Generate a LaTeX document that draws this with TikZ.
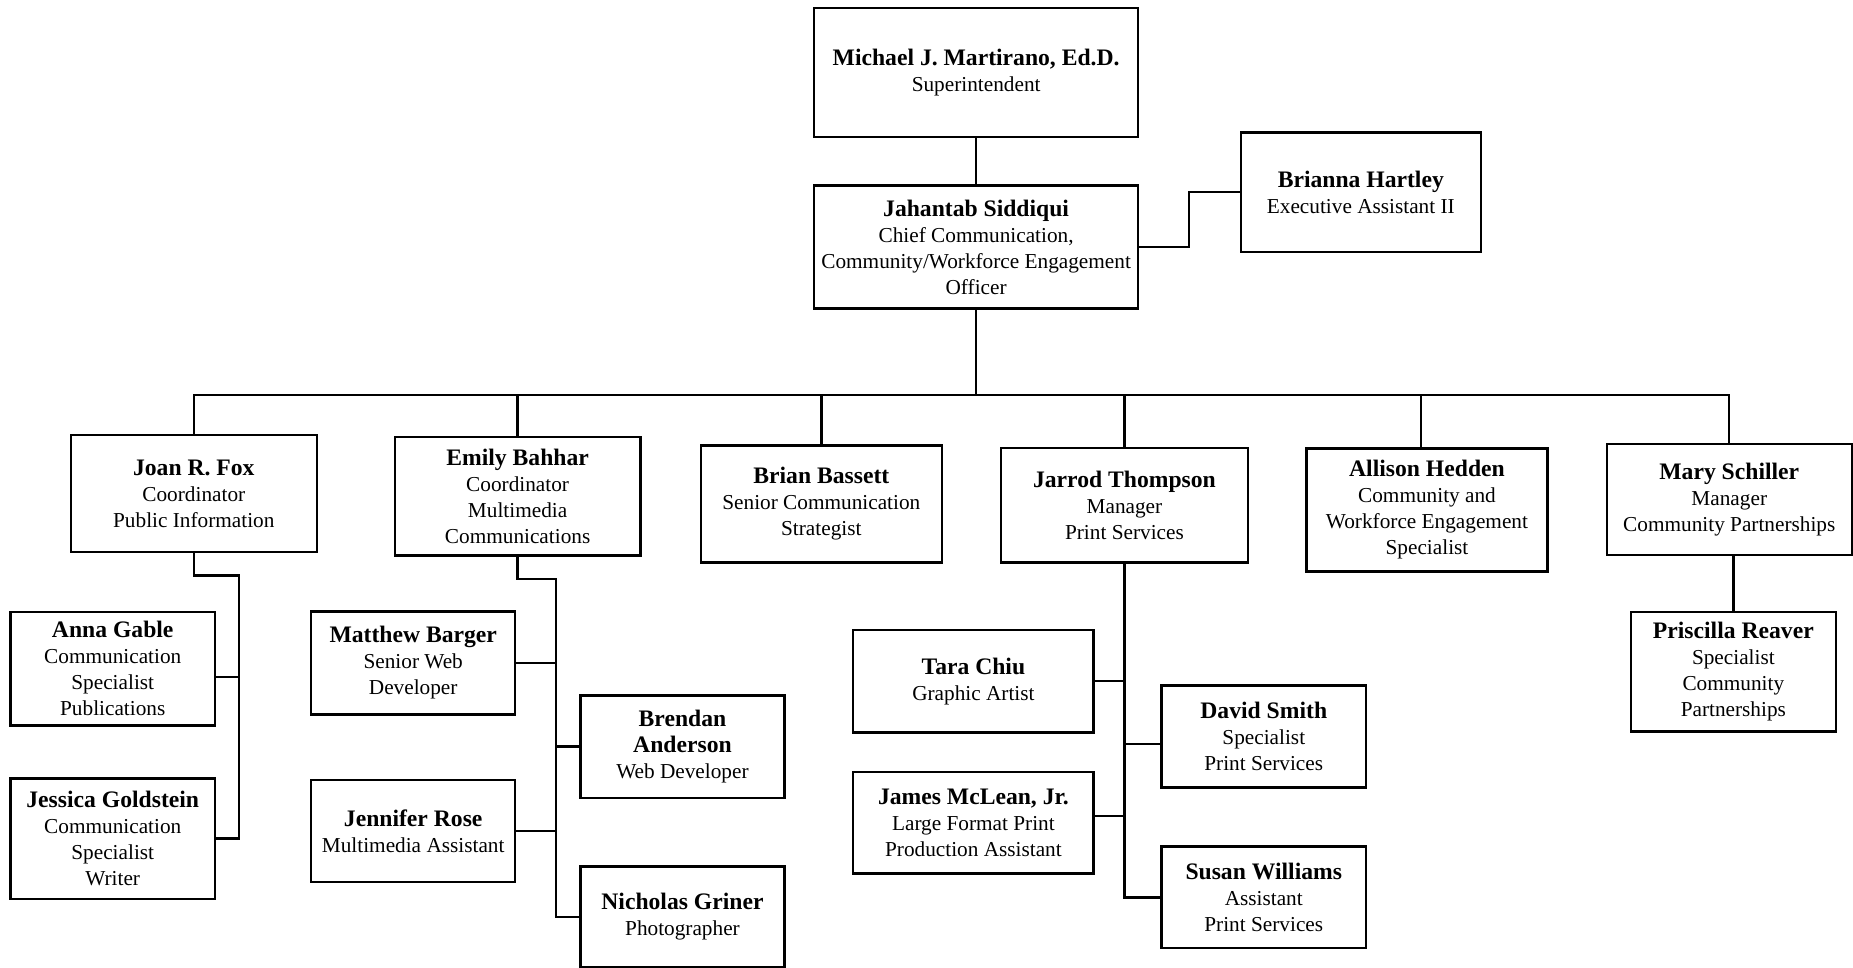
\documentclass[tikz,border=0pt]{standalone}
\usepackage{fontspec}
\setmainfont{Liberation Serif}
\usepackage{tikz}
\usetikzlibrary{calc,positioning}
\newcommand{\pname}[1]{{\fontsize{10}{12}\selectfont\bfseries #1}}

\begin{document}
\begin{tikzpicture}[x=0.5pt,y=-0.5pt,
  orgbox/.style={draw=black, line width=1pt, align=center, inner sep=2pt,
    font=\fontsize{9}{11}\selectfont},
  link/.style={draw=black, line width=1pt}]
\useasboundingbox (0,0) rectangle (1568,819);

\node[orgbox, minimum width=137pt, minimum height=54.5pt] (sup) at (826,61.5)
  {\pname{Michael J. Martirano, Ed.D.}\\Superintendent};
\node[orgbox, minimum width=137pt, minimum height=52pt] (cco) at (826,209)
  {\pname{Jahantab Siddiqui}\\Chief Communication,\\Community/Workforce Engagement\\Officer};
\node[orgbox, minimum width=101.5pt, minimum height=50.5pt] (exa) at (1151.5,162.5)
  {\pname{Brianna Hartley}\\Executive Assistant II};

\node[orgbox, minimum width=104pt, minimum height=49.5pt] (fox) at (164,417.5)
  {\pname{Joan R. Fox}\\Coordinator\\Public Information};
\node[orgbox, minimum width=104pt, minimum height=50pt] (bahhar) at (438,420)
  {\pname{Emily Bahhar}\\Coordinator\\Multimedia\\Communications};
\node[orgbox, minimum width=102pt, minimum height=49.5pt] (bassett) at (695,426.5)
  {\pname{Brian Bassett}\\Senior Communication\\Strategist};
\node[orgbox, minimum width=104.5pt, minimum height=48.5pt] (thompson) at (951.5,427.5)
  {\pname{Jarrod Thompson}\\Manager\\Print Services};
\node[orgbox, minimum width=102pt, minimum height=52pt] (hedden) at (1207.5,431.6)
  {\pname{Allison Hedden}\\Community and\\Workforce Engagement\\Specialist};
\node[orgbox, minimum width=103.7pt, minimum height=47pt] (schiller) at (1463.3,422.7)
  {\pname{Mary Schiller}\\Manager\\Community Partnerships};
\node[orgbox, minimum width=86.75pt, minimum height=50.7pt] (reaver) at (1466.75,568.3)
  {\pname{Priscilla Reaver}\\Specialist\\Community\\Partnerships};

\node[orgbox, minimum width=86.5pt, minimum height=48.2pt] (gable) at (95.4,565.8)
  {\pname{Anna Gable}\\Communication\\Specialist\\Publications};
\node[orgbox, minimum width=86.5pt, minimum height=51pt] (goldstein) at (95.4,709.65)
  {\pname{Jessica Goldstein}\\Communication\\Specialist\\Writer};

\node[orgbox, minimum width=86.35pt, minimum height=43.45pt] (barger) at (349.65,561)
  {\pname{Matthew Barger}\\Senior Web\\Developer};
\node[orgbox, minimum width=86.3pt, minimum height=43.2pt] (anderson) at (577.5,631.8)
  {\pname{Brendan}\\\pname{Anderson}\\Web Developer};
\node[orgbox, minimum width=86.35pt, minimum height=43.3pt] (rose) at (349.65,703.3)
  {\pname{Jennifer Rose}\\Multimedia Assistant};
\node[orgbox, minimum width=86.3pt, minimum height=42.65pt] (griner) at (577.5,776)
  {\pname{Nicholas Griner}\\Photographer};

\node[orgbox, minimum width=101.7pt, minimum height=43.35pt] (chiu) at (823.7,576.35)
  {\pname{Tara Chiu}\\Graphic Artist};
\node[orgbox, minimum width=86.6pt, minimum height=43.15pt] (smith) at (1069.4,623.35)
  {\pname{David Smith}\\Specialist\\Print Services};
\node[orgbox, minimum width=101.7pt, minimum height=43pt] (mclean) at (823.7,696)
  {\pname{James McLean, Jr.}\\Large Format Print\\Production Assistant};
\node[orgbox, minimum width=86.6pt, minimum height=43pt] (williams) at (1069.4,759.4)
  {\pname{Susan Williams}\\Assistant\\Print Services};

\draw[link] (sup) -- (cco);
\draw[link] (cco.east) -- ++(42,0) |- (exa.west);

\coordinate (bus) at (826,334.5);
\draw[link] (cco.south) -- (bus);
\foreach \n in {fox,bahhar,bassett,thompson,schiller}
{
    \draw[link] (bus) -| (\n.north);
}
\draw[link] (bus) -| ([xshift=-2.5pt]hedden.north);
\draw[link] (reaver.north) -- (reaver.north |- schiller.south);

\coordinate (foxspine) at (202,487);
\draw[link] (fox.south) |- (foxspine) |- (goldstein.east);
\draw[link] ([yshift=-3.5pt]gable.east) -- ([yshift=-3.5pt]gable.east -| foxspine);

\coordinate (bahspine) at (470.5,490);
\draw[link] (bahhar.south) |- (bahspine) |- (griner.west);
\foreach \n in {barger,rose}
{
    \draw[link] (\n.east) -- (\n.east -| bahspine);
}
\draw[link] (anderson.west) -- (anderson.west -| bahspine);

\draw[link] (thompson.south) |- (williams.west);
\draw[link] (chiu.east) -- (chiu.east -| thompson.south);
\draw[link] ([yshift=2.75pt]mclean.east) -- ([yshift=2.75pt]mclean.east -| thompson.south);
\draw[link] ([yshift=-3pt]smith.west) -- ([yshift=-3pt]smith.west -| thompson.south);
\end{tikzpicture}
\end{document}
